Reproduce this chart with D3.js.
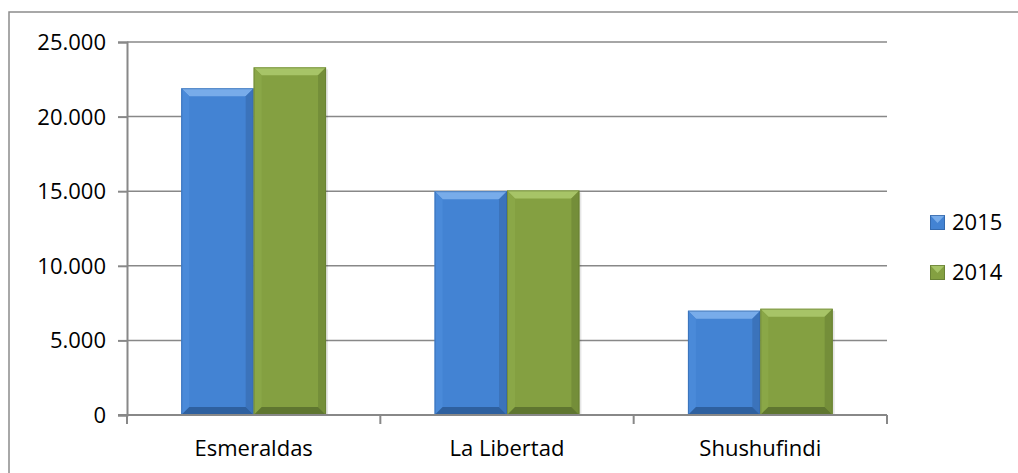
<!DOCTYPE html>
<html><head><meta charset="utf-8">
<script src="https://cdn.jsdelivr.net/npm/d3@7"></script>
<style>body{margin:0;background:#fff}svg{display:block}text{font-family:"Open Sans",sans-serif;fill:#000}</style>
</head><body><svg id="c" width="1018" height="473"></svg>
<script>
const categories = ["Esmeraldas", "La Libertad", "Shushufindi"];
const seriesNames = ["2015", "2014"];
const values2015 = [21900, 15000, 6990];
const values2014 = [23300, 15050, 7120];
const yTicks = [0, 5000, 10000, 15000, 20000, 25000];
const yTickLabels = ["0", "5.000", "10.000", "15.000", "20.000", "25.000"];

const seriesValues = [values2015, values2014];
const palette = [
  {main:"#4383D3", light:"#78ACEA", side:"#4A8AD9", right:"#3B73BB", dark:"#2E609F"},
  {main:"#84A041", light:"#A7C467", side:"#8AA747", right:"#748E39", dark:"#5F7630"}
];

const svg = d3.select("#c");
const L = 127, R = 887, T = 42, B = 415;

// frame
svg.append("rect").attr("x",9).attr("y",12).attr("width",1030).attr("height",480)
  .attr("fill","none").attr("stroke","#8c8c8c").attr("stroke-width",1.5);

const y = d3.scaleLinear().domain([0,25000]).range([B,T]);
const x0 = d3.scaleBand().domain(categories).range([L,R]).paddingInner(0).paddingOuter(0);
const x1 = d3.scaleBand().domain(seriesNames).range([0,x0.bandwidth()]).paddingInner(0).paddingOuter(0.75);

// gridlines
svg.append("g").selectAll("line").data(yTicks.filter(d=>d>0)).join("line")
  .attr("x1",L).attr("x2",R).attr("y1",d=>y(d)).attr("y2",d=>y(d))
  .attr("stroke","#888").attr("stroke-width",1.5);

// y axis
const yAxis = d3.axisLeft(y).tickValues(yTicks).tickSize(9).tickPadding(12)
  .tickFormat((d,i)=>yTickLabels[i]);
const gy = svg.append("g").attr("transform",`translate(${L},0)`).call(yAxis);
gy.select(".domain").attr("stroke","#888").attr("stroke-width",2);
gy.selectAll(".tick line").attr("stroke","#888").attr("stroke-width",2);
gy.selectAll(".tick text").attr("font-size",22).attr("font-family","Open Sans").attr("fill","#000").attr("dy","0.34em");

// bars
const bevel = 8;
categories.forEach((c,ci)=>{
  seriesNames.forEach((s,si)=>{
    const v = seriesValues[si][ci];
    const bx = x0(c) + x1(s), bw = x1.bandwidth();
    const by = y(v), bh = y(0) - y(v);
    const col = palette[si];
    const g = svg.append("g");
    g.append("rect").attr("x",bx+2).attr("y",by+2).attr("width",bw).attr("height",bh-2)
      .attr("fill","#000").attr("opacity",0.1);
    g.append("rect").attr("x",bx).attr("y",by).attr("width",bw).attr("height",bh).attr("fill",col.main);
    const b = Math.min(bevel, bh/2);
    g.append("polygon").attr("points",[[bx,by],[bx+bw,by],[bx+bw-b,by+b],[bx+b,by+b]].join(" "))
      .attr("fill",col.light);
    g.append("polygon").attr("points",[[bx,by],[bx+b,by+b],[bx+b,by+bh-b],[bx,by+bh]].join(" "))
      .attr("fill",col.side);
    g.append("polygon").attr("points",[[bx+bw,by],[bx+bw-b,by+b],[bx+bw-b,by+bh-b],[bx+bw,by+bh]].join(" "))
      .attr("fill",col.right);
    g.append("polygon").attr("points",[[bx,by+bh],[bx+b,by+bh-b],[bx+bw-b,by+bh-b],[bx+bw,by+bh]].join(" "))
      .attr("fill",col.dark);
    g.append("rect").attr("x",bx+0.5).attr("y",by+0.5).attr("width",bw-1).attr("height",bh-1)
      .attr("fill","none").attr("stroke",col.dark).attr("stroke-width",1).attr("opacity",0.5);
  });
});

// x axis
const xAxisG = svg.append("g").attr("transform",`translate(0,${B})`);
xAxisG.append("line").attr("x1",L-9).attr("x2",R).attr("y1",0).attr("y2",0)
  .attr("stroke","#888").attr("stroke-width",2);
const boundaries = categories.map(c=>x0(c)).concat([R]);
xAxisG.selectAll("line.tk").data(boundaries).join("line").attr("class","tk")
  .attr("x1",d=>d).attr("x2",d=>d).attr("y1",0).attr("y2",9)
  .attr("stroke","#888").attr("stroke-width",2);
xAxisG.selectAll("text").data(categories).join("text")
  .attr("x",d=>x0(d)+x0.bandwidth()/2).attr("y",41).attr("text-anchor","middle")
  .attr("font-size",22).text(d=>d);

// legend
const lg = svg.append("g");
seriesNames.forEach((s,i)=>{
  const ly = 222 + i*50;
  const col = palette[i];
  lg.append("rect").attr("x",930).attr("y",ly-7).attr("width",15).attr("height",15).attr("fill",col.main);
  lg.append("polygon").attr("points",[[930,ly-7],[945,ly-7],[937.5,ly+1]].join(" ")).attr("fill",col.light);
  lg.append("rect").attr("x",930.5).attr("y",ly-6.5).attr("width",14).attr("height",14).attr("fill","none").attr("stroke",col.dark).attr("opacity",0.7);
  lg.append("text").attr("x",952).attr("y",ly).attr("dy","0.35em").attr("font-size",22).text(s);
});
</script></body></html>
